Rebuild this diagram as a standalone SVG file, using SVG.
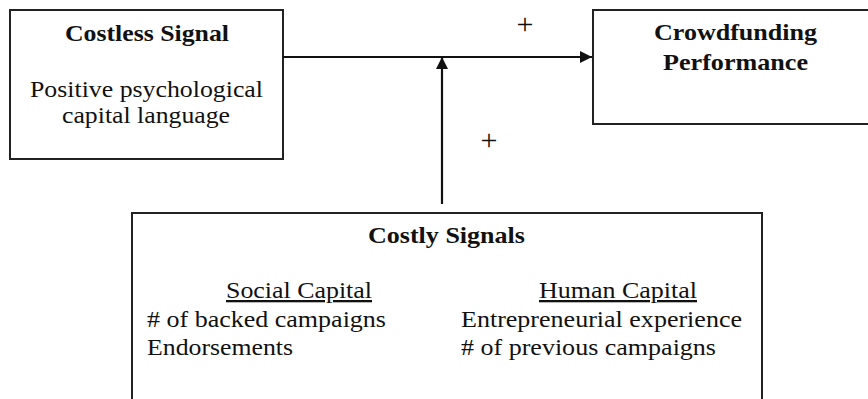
<svg xmlns="http://www.w3.org/2000/svg" width="868" height="399" viewBox="0 0 868 399">
<style>
.box{fill:#fff;stroke:#222;stroke-width:2}
.t{font-family:'Liberation Serif','Times New Roman',serif;font-size:23px;fill:#111}
.b{font-weight:bold}
.u{text-decoration:underline}
.p{font-family:'Liberation Serif','Times New Roman',serif;font-size:30px;fill:#111}
.conn{stroke:#111;stroke-width:2.2;fill:none}
</style>
<defs>
<marker id="ah" viewBox="0 0 12 12" refX="12" refY="6" markerWidth="12" markerHeight="12" markerUnits="userSpaceOnUse" orient="auto">
<path d="M0,0 L12,6 L0,12 z" fill="#111"/>
</marker>
</defs>
<g id="costless">
<rect class="box" x="10" y="10" width="273" height="149"/>
<text class="t b" x="65" y="41" textLength="164" lengthAdjust="spacingAndGlyphs">Costless Signal</text>
<text class="t" x="30" y="97" textLength="233" lengthAdjust="spacingAndGlyphs">Positive psychological</text>
<text class="t" x="62" y="123" textLength="168" lengthAdjust="spacingAndGlyphs">capital language</text>
</g>
<g id="performance">
<rect class="box" x="593" y="10" width="300" height="114"/>
<text class="t b" x="654" y="40" textLength="163" lengthAdjust="spacingAndGlyphs">Crowdfunding</text>
<text class="t b" x="663" y="70" textLength="145" lengthAdjust="spacingAndGlyphs">Performance</text>
</g>
<g id="costly">
<rect class="box" x="132" y="213" width="630" height="220"/>
<text class="t b" x="368" y="243" textLength="157" lengthAdjust="spacingAndGlyphs">Costly Signals</text>
<text class="t u" x="226" y="298" textLength="146" lengthAdjust="spacingAndGlyphs">Social Capital</text>
<text class="t" x="147" y="327" textLength="239" lengthAdjust="spacingAndGlyphs"># of backed campaigns</text>
<text class="t" x="147" y="355" textLength="146" lengthAdjust="spacingAndGlyphs">Endorsements</text>
<text class="t u" x="539" y="298" textLength="158" lengthAdjust="spacingAndGlyphs">Human Capital</text>
<text class="t" x="461" y="327" textLength="281" lengthAdjust="spacingAndGlyphs">Entrepreneurial experience</text>
<text class="t" x="461" y="355" textLength="255" lengthAdjust="spacingAndGlyphs"># of previous campaigns</text>
</g>
<g id="connectors">
<line class="conn" x1="283" y1="57" x2="592" y2="57" marker-end="url(#ah)"/>
<line class="conn" x1="442" y1="204" x2="442" y2="57" marker-end="url(#ah)"/>
<text class="p" x="525" y="34" text-anchor="middle">+</text>
<text class="p" x="489" y="150" text-anchor="middle">+</text>
</g>
</svg>
